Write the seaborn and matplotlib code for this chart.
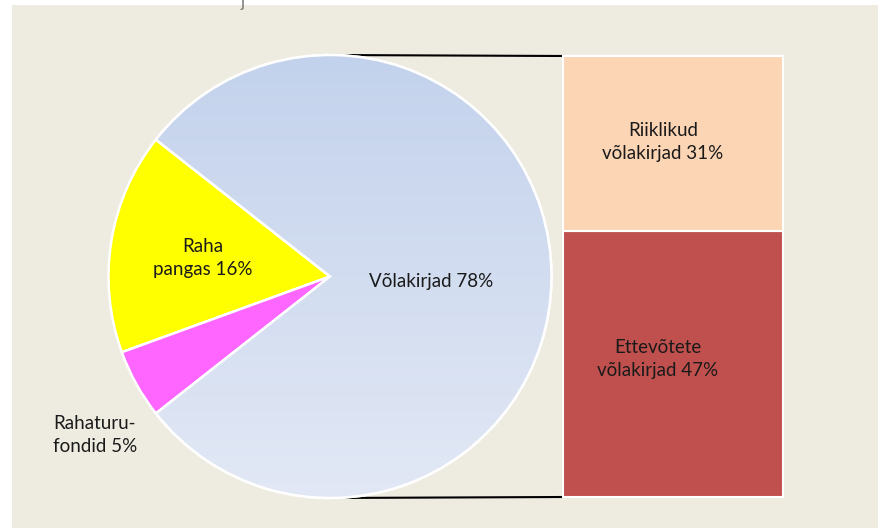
import numpy as np
import matplotlib
matplotlib.use("Agg")
import matplotlib.pyplot as plt
import seaborn as sns
from matplotlib.patches import Rectangle, Wedge
from matplotlib.colors import LinearSegmentedColormap

# ---- data ----
pie_labels = ["Võlakirjad 78%", "Raha\npangas 16%", "Rahaturu-\nfondid 5%"]
pie_values = [78, 16, 5]
pie_colors = ["#C5D4ED", "#FFFF00", "#FF66FF"]

bar_labels = ["Ettevõtete\nvõlakirjad 47%", "Riiklikud\nvõlakirjad 31%"]
bar_values = [47, 31]
bar_colors = ["#C0504D", "#FCD5B5"]

sns.set_theme(style="white")
plt.rcParams["font.family"] = ["Lato", "DejaVu Sans"]

W, H = 879, 528
fig = plt.figure(figsize=(W / 100, H / 100), dpi=100)
fig.patch.set_facecolor("white")

# main axes in pixel coordinates (y upward)
ax = fig.add_axes([0, 0, 1, 1])
ax.set_xlim(0, W)
ax.set_ylim(0, H)
ax.set_aspect("equal")
ax.axis("off")

# beige panel
ax.add_patch(Rectangle((12, 0), W - 12, H - 5, facecolor="#EEEBE0", edgecolor="none", zorder=0))
ax.text(243, H - 2, "j", fontsize=12, color="#777777", va="center", ha="center", zorder=1)

cx, cy, r = 330, H - 276.5, 221.5
total = sum(pie_values)
start = -pie_values[0] / total * 360 / 2
wedges, _ = ax.pie(pie_values, colors=pie_colors, startangle=start, counterclock=True,
                   center=(cx, cy), radius=r, frame=True,
                   wedgeprops=dict(edgecolor="white", linewidth=1.8), normalize=True)
for w in wedges:
    w.set_zorder(3)

# gradient on the main slice
grad = np.linspace(0, 1, 256).reshape(-1, 1)
cmap = LinearSegmentedColormap.from_list("g", ["#E2E8F5", "#C3D2EC"])
im = ax.imshow(grad, cmap=cmap, extent=(cx - r, cx + r, cy - r, cy + r),
               origin="lower", aspect="auto", zorder=3.5)
im.set_clip_path(wedges[0])
edge = Wedge((cx, cy), r, wedges[0].theta1, wedges[0].theta2,
             facecolor="none", edgecolor="white", linewidth=1.8, zorder=4)
ax.add_patch(edge)
ax.set_xlim(0, W)
ax.set_ylim(0, H)
ax.axis("off")

# connector lines
bx0, bx1 = 563, 783
btop, bbot = H - 56, H - 497
ax.plot([cx, bx0], [cy + r, btop], color="black", lw=1.5, zorder=2, solid_capstyle="butt")
ax.plot([cx, bx0], [cy - r, bbot], color="black", lw=1.5, zorder=2, solid_capstyle="butt")

tk = dict(fontsize=13.5, color="#1a1a1a", ha="center", va="center", linespacing=1.43)
ax.text(431, H - 281, pie_labels[0], zorder=6, **tk)
ax.text(203, H - 258, pie_labels[1], zorder=6, **tk)
ax.text(95, H - 435, pie_labels[2], zorder=6, **tk)

# bar-of-pie stacked bar
bax = fig.add_axes([bx0 / W, bbot / H, (bx1 - bx0) / W, (btop - bbot) / H])
bax.set_xlim(-0.5, 0.5)
bax.set_ylim(0, sum(bar_values))
bax.axis("off")
bottom = 0
for v, c in zip(bar_values, bar_colors):
    bax.bar(0, v, width=1.0, bottom=bottom, color=c, edgecolor="white", linewidth=1.5, clip_on=False)
    bottom += v
fig.text(658 / W, 1 - 359 / H, bar_labels[0], **tk)
fig.text(663 / W, 1 - 142 / H, bar_labels[1], **tk)

fig.savefig("out.png", dpi=100, facecolor=fig.get_facecolor())
